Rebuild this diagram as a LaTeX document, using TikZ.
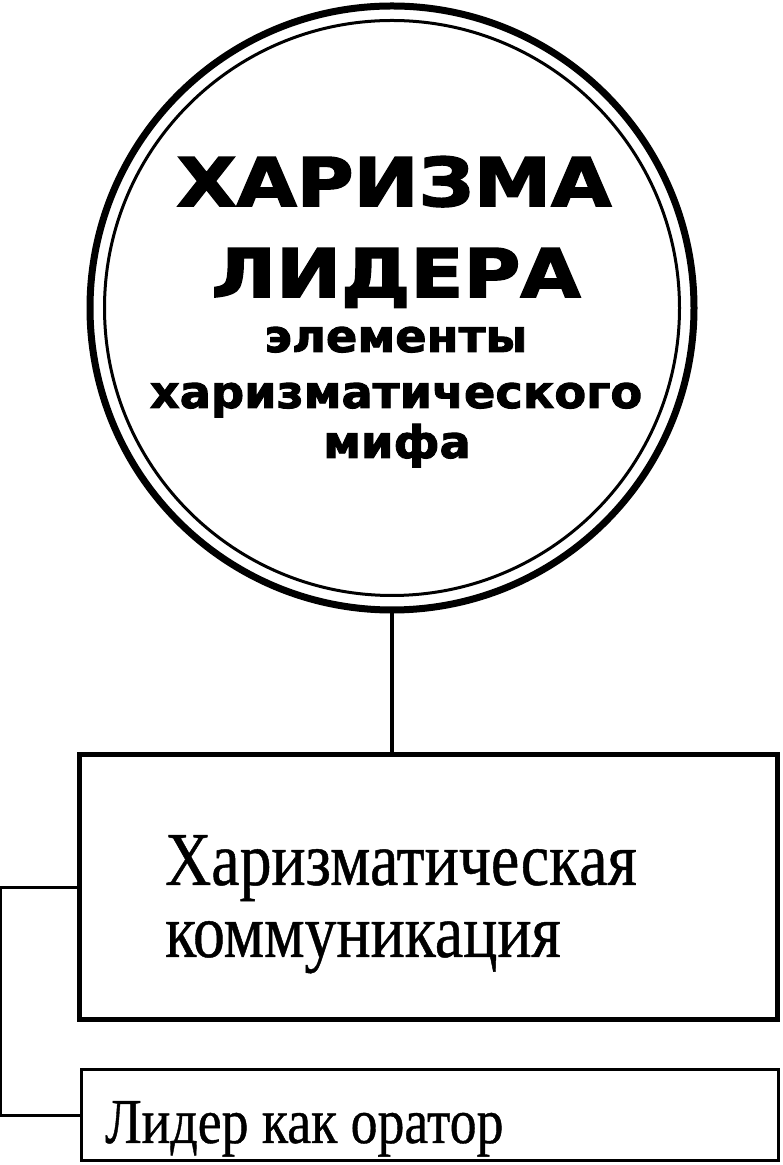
\documentclass[tikz,border=0pt]{standalone}
\usepackage{fontspec}
\usetikzlibrary{positioning}

\newfontfamily\titlefont{DejaVu Sans Bold}[FakeStretch=1.16, FakeBold=2.5]
\newfontfamily\subfont{DejaVu Sans Bold}[FakeStretch=1.03, FakeBold=2]
\newfontfamily\boxfont{Liberation Serif}[FakeStretch=0.84, FakeBold=0.6]

\tikzset{
    bigbox/.style={draw, line width=5pt, rectangle, inner sep=0pt,
        minimum width=698pt, minimum height=265.5pt},
    leadbox/.style={draw, line width=3pt, rectangle, inner sep=0pt,
        minimum width=696.5pt, minimum height=91.5pt},
    link/.style={line width=3pt},
}

\begin{document}
\begin{tikzpicture}[x=1pt, y=1pt]
        \useasboundingbox (0,0) rectangle (783,1165);

        % Circle with double ring
        \node [circle, draw, line width=7pt, inner sep=0pt, minimum size=604pt] (charisma) at (392,857) {};
        \draw [line width=3pt] (charisma.center) circle [radius=287.5pt];

        % Texts inside the circle
        \node [anchor=base, inner sep=0pt, font=\titlefont\fontsize{67}{67}\selectfont] (title1) at (394,959) {ХАРИЗМА};
        \node [anchor=base, inner sep=0pt, font=\titlefont\fontsize{67}{67}\selectfont] (title2) at (396,868) {ЛИДЕРА};
        \node [anchor=base, inner sep=0pt, font=\subfont\fontsize{45}{45}\selectfont] (sub1) at (396,813) {элементы};
        \node [anchor=base, inner sep=0pt, font=\subfont\fontsize{45}{45}\selectfont] (sub2) at (396,757) {харизматического};
        \node [anchor=base, inner sep=0pt, font=\subfont\fontsize{45}{45}\selectfont] (sub3) at (397,707) {мифа};

        % Boxes
        \node [bigbox] (comm) at (428.5,277.75) {};
        \node [anchor=north west, inner sep=0pt, align=left, font=\boxfont\fontsize{76}{72}\selectfont] (commtext) at (165,330) {Харизматическая\\коммуникация};

        \node [leadbox] (lead) at (429.75,49.75) {};
        \node [anchor=base west, inner sep=0pt, font=\boxfont\fontsize{64}{64}\selectfont] (leadtext) at (105,22) {Лидер как оратор};

        % Connectors
        \draw [line width=4pt] (charisma.south) -- (charisma.south |- comm.north);
        \draw [link] (comm.west) -- ++(-76.5,0) |- (lead.west);
    \end{tikzpicture}
\end{document}
